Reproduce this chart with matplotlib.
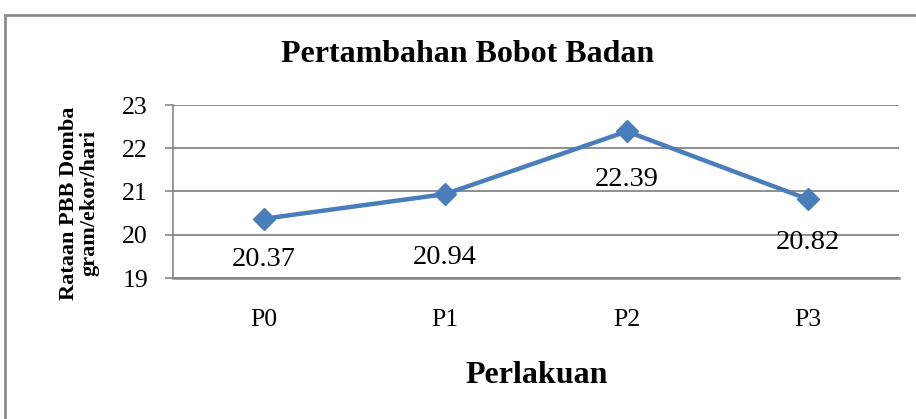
import matplotlib.pyplot as plt
from matplotlib.patches import Rectangle

# data
perlakuan = ['P0', 'P1', 'P2', 'P3']
pbb = [20.37, 20.94, 22.39, 20.82]
y_ticks = [19, 20, 21, 22, 23]
# how far below each point its value label sits (points)
label_drop = [29.5, 46, 35, 31]

plt.rcParams['font.family'] = 'Liberation Serif'

W, H = 916, 419
fig = plt.figure(figsize=(W / 100, H / 100), dpi=100)

# plot area in pixels: left 173, right 899, top 105, bottom 278
ax = fig.add_axes([173 / W, 1 - 278 / H, (899 - 173) / W, (278 - 105) / H])

x = list(range(len(perlakuan)))
ax.plot(x, pbb, color='#4A7EBB', lw=3.2, marker='D', markersize=11,
        markerfacecolor='#4A7EBB', markeredgecolor='#4A7EBB', zorder=3)

for xi, v, d in zip(x, pbb, label_drop):
    ax.annotate(f'{v:.2f}', (xi, v), xytext=(0, -d), textcoords='offset points',
                ha='center', va='center', fontsize=20.5)

ax.set_xlim(-0.5, 3.5)
ax.set_ylim(19, 23)
ax.set_yticks(y_ticks)
ax.set_xticks(x)
ax.set_xticklabels(perlakuan)
ax.tick_params(axis='y', labelsize=18.5, length=6, color='#868686', width=1.2, pad=12)
ax.tick_params(axis='x', labelsize=18.5, length=0, pad=22)

ax.grid(axis='y', color='#868686', lw=1.3)
ax.set_axisbelow(True)
for s in ['top', 'right']:
    ax.spines[s].set_visible(False)
ax.spines['left'].set_color('#868686')
ax.spines['left'].set_linewidth(1.2)
ax.spines['bottom'].set_color('#868686')
ax.spines['bottom'].set_linewidth(1.8)

fig.text(468 / W, 1 - 54 / H, 'Pertambahan Bobot Badan', ha='center', va='center',
         fontsize=23, fontweight='bold')
fig.text(537 / W, 1 - 375 / H, 'Perlakuan', ha='center', va='center',
         fontsize=23, fontweight='bold')
fig.text(79 / W, 1 - 203 / H, 'Rataan PBB Domba\ngram/ekor/hari', ha='center', va='center',
         rotation=90, fontsize=16, fontweight='bold', linespacing=1.0)

# chart border (Excel frame, cut at right and bottom)
fig.patches.append(Rectangle((5 / W, -0.1), 1.2, 1 - 15 / H + 0.1,
                             transform=fig.transFigure, fill=False,
                             edgecolor='#8C8C8C', lw=2))

fig.savefig('out.png', dpi=100)
